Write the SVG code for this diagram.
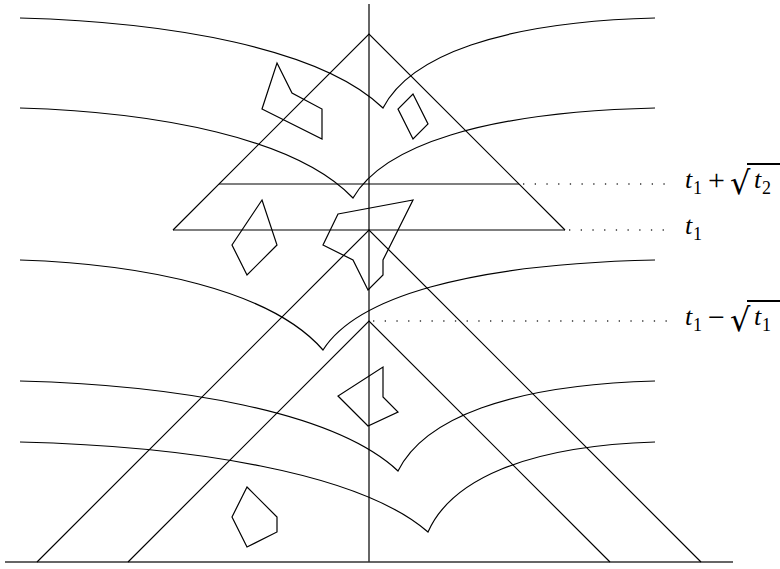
<svg xmlns="http://www.w3.org/2000/svg" width="780" height="569" viewBox="0 0 780 569">
<style>
.ln{fill:none;stroke:#000;stroke-width:1.2}
.ax{fill:none;stroke:#333;stroke-width:1.5}
.dot{fill:none;stroke:#333;stroke-width:1.3;stroke-dasharray:1.3 10.4}
</style>
<rect width="780" height="569" fill="#fff"/>
<g id="axes">
<line class="ax" x1="369" y1="4" x2="369" y2="562"/>
<line class="ax" x1="5" y1="562" x2="733" y2="562"/>
</g>
<g id="triangles">
<polyline class="ln" points="173,230 369,34 565,230"/>
<line class="ln" x1="173" y1="230" x2="565" y2="230"/>
<line class="ln" x1="219" y1="184" x2="519" y2="184"/>
<polyline class="ln" points="37,562 369,230 701,562"/>
<polyline class="ln" points="128,562 369,321 610,562"/>
</g>
<g id="curves">
<path class="ln" d="M20,18 C169,22 321,48 383,108 C410,56 500,22 655,18"/>
<path class="ln" d="M20,108 C157,112 296,138 353,198 C383,146 483,112 655,108"/>
<path class="ln" d="M20,260 C144,264 271,290 323,350 C356,298 466,264 655,260"/>
<path class="ln" d="M20,381 C175,385 334,411 398,471 C424,419 508,385 655,381"/>
<path class="ln" d="M20,442 C187,446 359,472 428,532 C451,480 526,446 655,442"/>
</g>
<g id="polygons">
<polygon class="ln" points="277,63 292,93 322,109 322,139 262,109"/>
<polygon class="ln" points="413,94 428,124 413,139 398,109"/>
<polygon class="ln" points="262,200 277,245 247,275 232,245"/>
<polygon class="ln" points="338,214 413,200 383,260 383,275 368,290 353,260 323,245"/>
<polygon class="ln" points="383,367 383,397 398,412 368,426 338,396"/>
<polygon class="ln" points="247,487 277,517 277,532 247,547 232,517"/>
</g>
<g id="levels">
<line class="dot" x1="523" y1="184" x2="668" y2="184"/>
<line class="dot" x1="569" y1="230" x2="668" y2="230"/>
<line class="dot" x1="373" y1="321" x2="668" y2="321"/>
</g>
<g id="label-t1-plus" font-family="Liberation Serif, serif" fill="#000">
<text x="685" y="188" font-size="26" font-style="italic">t</text>
<text x="693" y="194" font-size="18">1</text>
<text x="708" y="190" font-size="30">+</text>
<text x="730" y="194" font-size="32" font-family="DejaVu Serif, serif">√</text>
<line x1="747" y1="164" x2="780" y2="164" stroke="#000" stroke-width="1.8"/>
<text x="754" y="188" font-size="26" font-style="italic">t</text>
<text x="762" y="194" font-size="18">2</text>
</g>
<g id="label-t1" font-family="Liberation Serif, serif" fill="#000">
<text x="685" y="234" font-size="26" font-style="italic">t</text>
<text x="693" y="240" font-size="18">1</text>
</g>
<g id="label-t1-minus" font-family="Liberation Serif, serif" fill="#000">
<text x="685" y="325" font-size="26" font-style="italic">t</text>
<text x="693" y="331" font-size="18">1</text>
<text x="708" y="327" font-size="30">−</text>
<text x="730" y="331" font-size="32" font-family="DejaVu Serif, serif">√</text>
<line x1="747" y1="301" x2="780" y2="301" stroke="#000" stroke-width="1.8"/>
<text x="754" y="325" font-size="26" font-style="italic">t</text>
<text x="762" y="331" font-size="18">1</text>
</g>
</svg>
